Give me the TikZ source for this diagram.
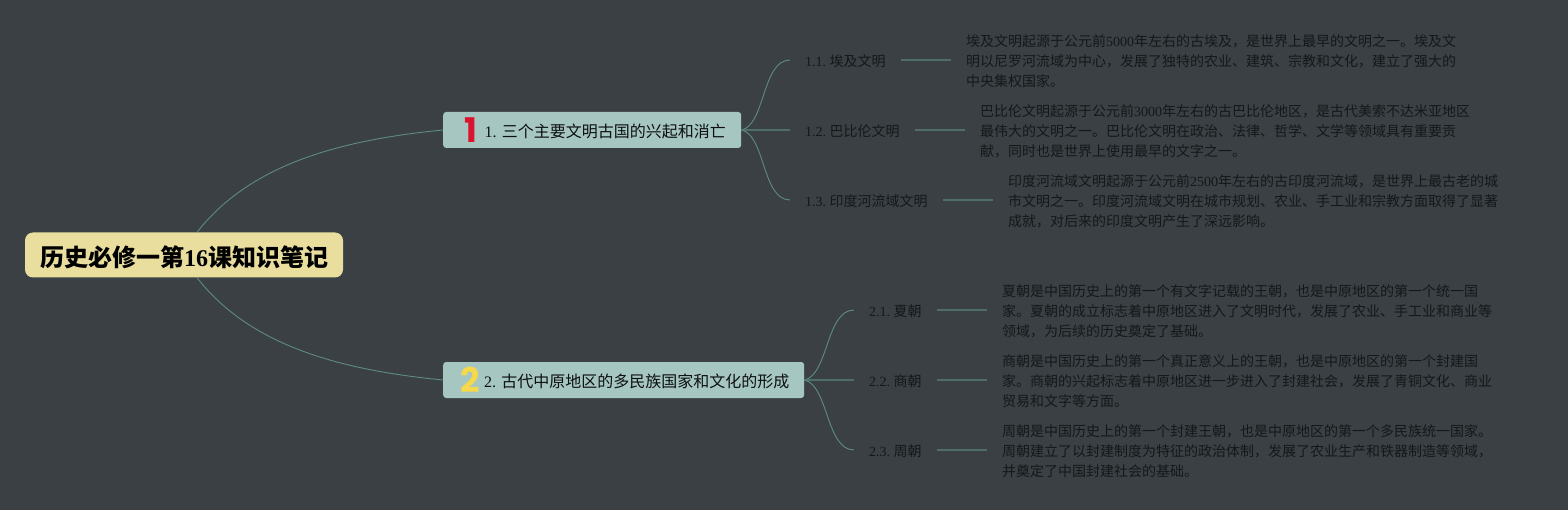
\documentclass[tikz,border=0pt]{standalone}
\usepackage{fontspec}
\setmainfont{Noto Sans CJK SC}
\newfontfamily\latf{Liberation Serif}
\newfontfamily\iconf{Poppins}
\newcommand{\lt}[1]{{\latf #1}}
\newcommand{\nm}[1]{{\latf #1}\hspace{3.3pt}}
\definecolor{bgc}{HTML}{3A4043}
\definecolor{rootc}{HTML}{E9DE9E}
\definecolor{branchc}{HTML}{A5C6C1}
\definecolor{curvec}{HTML}{5F8A85}
\definecolor{linec}{HTML}{4F6D69}
\definecolor{darkt}{HTML}{14181A}
\definecolor{blackt}{HTML}{0E1011}
\definecolor{redi}{HTML}{D9142E}
\definecolor{yeli}{HTML}{F5D94A}
\tikzset{
  x=1pt,y=-1pt,
  rootbox/.style={draw=none,fill=rootc,rounded corners=8pt,minimum width=318pt,minimum height=45pt,inner sep=0pt,text=black,text height=23pt,text depth=0pt,font=\fontsize{24}{28}\selectfont\bfseries},
  branchbox/.style={draw=none,fill=branchc,rounded corners=3pt,minimum height=36pt,inner sep=0pt,text=blackt,text height=14.2pt,text depth=0pt,font=\fontsize{16}{20}\selectfont,anchor=west},
  childlabel/.style={inner xsep=15pt,inner ysep=0pt,text=darkt,font=\fontsize{14}{20}\selectfont,anchor=west,yshift=-1pt},
  detail/.style={inner xsep=15pt,inner ysep=0pt,text=darkt,font=\fontsize{14}{20}\selectfont,align=left,anchor=west,yshift=-1pt},
  icontext/.style={inner sep=0pt,font=\fontsize{34}{34}\iconf\bfseries\selectfont},
  curveline/.style={draw=curvec,line width=0.9pt},
  stemline/.style={draw=linec,line width=1.4pt},
  up1/.style={yshift=1pt},
}
\begin{document}
\begin{tikzpicture}
\useasboundingbox[fill=bgc] (0,0) rectangle (1568,510);
\node[rootbox] (root) at (184,255) {历史必修一第\lt{16}课知识笔记};
\node[branchbox,minimum width=298pt] (b1) at (443,130) {\hspace*{26pt}\lt{1. }三个主要文明古国的兴起和消亡};
\node[branchbox,minimum width=361pt] (b2) at (443,380) {\hspace*{26pt}\lt{2. }古代中原地区的多民族国家和文化的形成};
\node[icontext,text=redi] (i1) at (471,130) {1};
\node[icontext,text=yeli] (i2) at (470,380) {2};

\node[childlabel] (c11) at (790,60) {\nm{1.1.}埃及文明};
\node[childlabel] (c12) at (790,130) {\nm{1.2.}巴比伦文明};
\node[childlabel] (c13) at (790,200) {\nm{1.3.}印度河流域文明};
\node[childlabel] (c21) at (854,310) {\nm{2.1.}夏朝};
\node[childlabel] (c22) at (854,380) {\nm{2.2.}商朝};
\node[childlabel] (c23) at (854,450) {\nm{2.3.}周朝};

\node[detail] (d11) at (951,60) {埃及文明起源于公元前\lt{5000}年左右的古埃及，是世界上最早的文明之一。埃及文\\明以尼罗河流域为中心，发展了独特的农业、建筑、宗教和文化，建立了强大的\\中央集权国家。};
\node[detail] (d12) at (965,130) {巴比伦文明起源于公元前\lt{3000}年左右的古巴比伦地区，是古代美索不达米亚地区\\最伟大的文明之一。巴比伦文明在政治、法律、哲学、文学等领域具有重要贡\\献，同时也是世界上使用最早的文字之一。};
\node[detail] (d13) at (993,200) {印度河流域文明起源于公元前\lt{2500}年左右的古印度河流域，是世界上最古老的城\\市文明之一。印度河流域文明在城市规划、农业、手工业和宗教方面取得了显著\\成就，对后来的印度文明产生了深远影响。};
\node[detail] (d21) at (987,310) {夏朝是中国历史上的第一个有文字记载的王朝，也是中原地区的第一个统一国\\家。夏朝的成立标志着中原地区进入了文明时代，发展了农业、手工业和商业等\\领域，为后续的历史奠定了基础。};
\node[detail] (d22) at (987,380) {商朝是中国历史上的第一个真正意义上的王朝，也是中原地区的第一个封建国\\家。商朝的兴起标志着中原地区进一步进入了封建社会，发展了青铜文化、商业\\贸易和文字等方面。};
\node[detail] (d23) at (987,450) {周朝是中国历史上的第一个封建王朝，也是中原地区的第一个多民族统一国家。\\周朝建立了以封建制度为特征的政治体制，发展了农业生产和铁器制造等领域，\\并奠定了中国封建社会的基础。};

\draw[curveline] ([xshift=13pt]root.north) .. controls +(53,-68) and +(-103,10) .. (b1.west);
\draw[curveline] ([xshift=13pt]root.south) .. controls +(53,68) and +(-103,-10) .. (b2.west);

\draw[curveline] (b1.east) .. controls +(24,-5) and +(-28,0) .. ([up1]c11.west);
\draw[stemline] (b1.east) -- ([up1]c12.west);
\draw[curveline] (b1.east) .. controls +(24,5) and +(-28,0) .. ([up1]c13.west);
\draw[curveline] (b2.east) .. controls +(24,-5) and +(-28,0) .. ([up1]c21.west);
\draw[stemline] (b2.east) -- ([up1]c22.west);
\draw[curveline] (b2.east) .. controls +(24,5) and +(-28,0) .. ([up1]c23.west);

\draw[stemline] ([up1]c11.east) -- ([up1]d11.west);
\draw[stemline] ([up1]c12.east) -- ([up1]d12.west);
\draw[stemline] ([up1]c13.east) -- ([up1]d13.west);
\draw[stemline] ([up1]c21.east) -- ([up1]d21.west);
\draw[stemline] ([up1]c22.east) -- ([up1]d22.west);
\draw[stemline] ([up1]c23.east) -- ([up1]d23.west);
\end{tikzpicture}
\end{document}
